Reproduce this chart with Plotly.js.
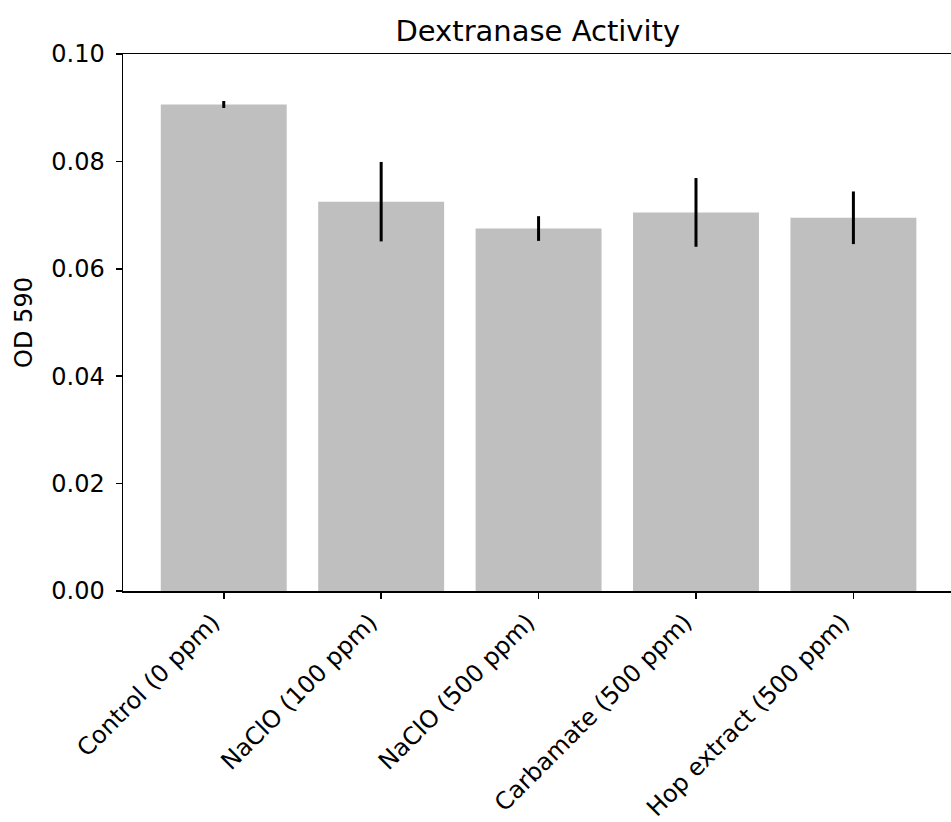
<!DOCTYPE html>
<html>
<head>
<meta charset="utf-8">
<script src="https://cdn.plot.ly/plotly-3.0.1.min.js"></script>
<style>html,body{margin:0;padding:0;background:#fff;}#chart{width:951px;height:822px;}</style>
</head>
<body>
<div id="chart"></div>
<script>
const categories = ["Control (0 ppm)", "NaClO (100 ppm)", "NaClO (500 ppm)", "Carbamate (500 ppm)", "Hop extract (500 ppm)"];
const values = [0.0906, 0.0725, 0.0675, 0.0705, 0.0695];
const errors = [0.00065, 0.0074, 0.0023, 0.0064, 0.0049];
const yTicks = [0.00, 0.02, 0.04, 0.06, 0.08, 0.10];

const FONT = "DejaVu Sans, sans-serif";
const trace = {
  type: "bar",
  x: categories.map((c, i) => i),
  y: values,
  width: 0.8,
  marker: {color: "#bfbfbf", line: {width: 0}},
  error_y: {type: "data", array: errors, visible: true, color: "#000", thickness: 3, width: 0},
  hoverinfo: "skip"
};
const layout = {
  width: 951, height: 822,
  margin: {l: 123, r: 0, t: 54, b: 231},
  paper_bgcolor: "#fff", plot_bgcolor: "#fff",
  showlegend: false,
  title: {text: "Dextranase Activity", font: {family: FONT, size: 29, color: "#000"}, x: 0.5655, xanchor: "center", y: 0.963, yanchor: "middle"},
  xaxis: {
    range: [-0.64, 4.62], tickvals: categories.map((c, i) => i), ticktext: categories,
    tickangle: -45, ticks: "outside", ticklen: 6, tickwidth: 1.5, tickcolor: "#000",
    ticklabelshift: -11,
    showline: true, linecolor: "#000", linewidth: 1.5, mirror: true, showgrid: false, zeroline: false,
    tickfont: {family: FONT, size: 24, color: "#000"}
  },
  yaxis: {
    range: [0, 0.1], tickvals: yTicks, ticktext: yTicks.map(v => v.toFixed(2)),
    ticks: "outside", ticklen: 6, tickwidth: 1.5, tickcolor: "#000",
    ticklabelstandoff: 6,
    showline: true, linecolor: "#000", linewidth: 1.5, showgrid: false, zeroline: false,
    tickfont: {family: FONT, size: 24, color: "#000"},
    title: {text: "OD 590", font: {family: FONT, size: 24, color: "#000"}, standoff: 12}
  }
};
Plotly.newPlot("chart", [trace], layout, {staticPlot: true, displayModeBar: false});
</script>
</body>
</html>
